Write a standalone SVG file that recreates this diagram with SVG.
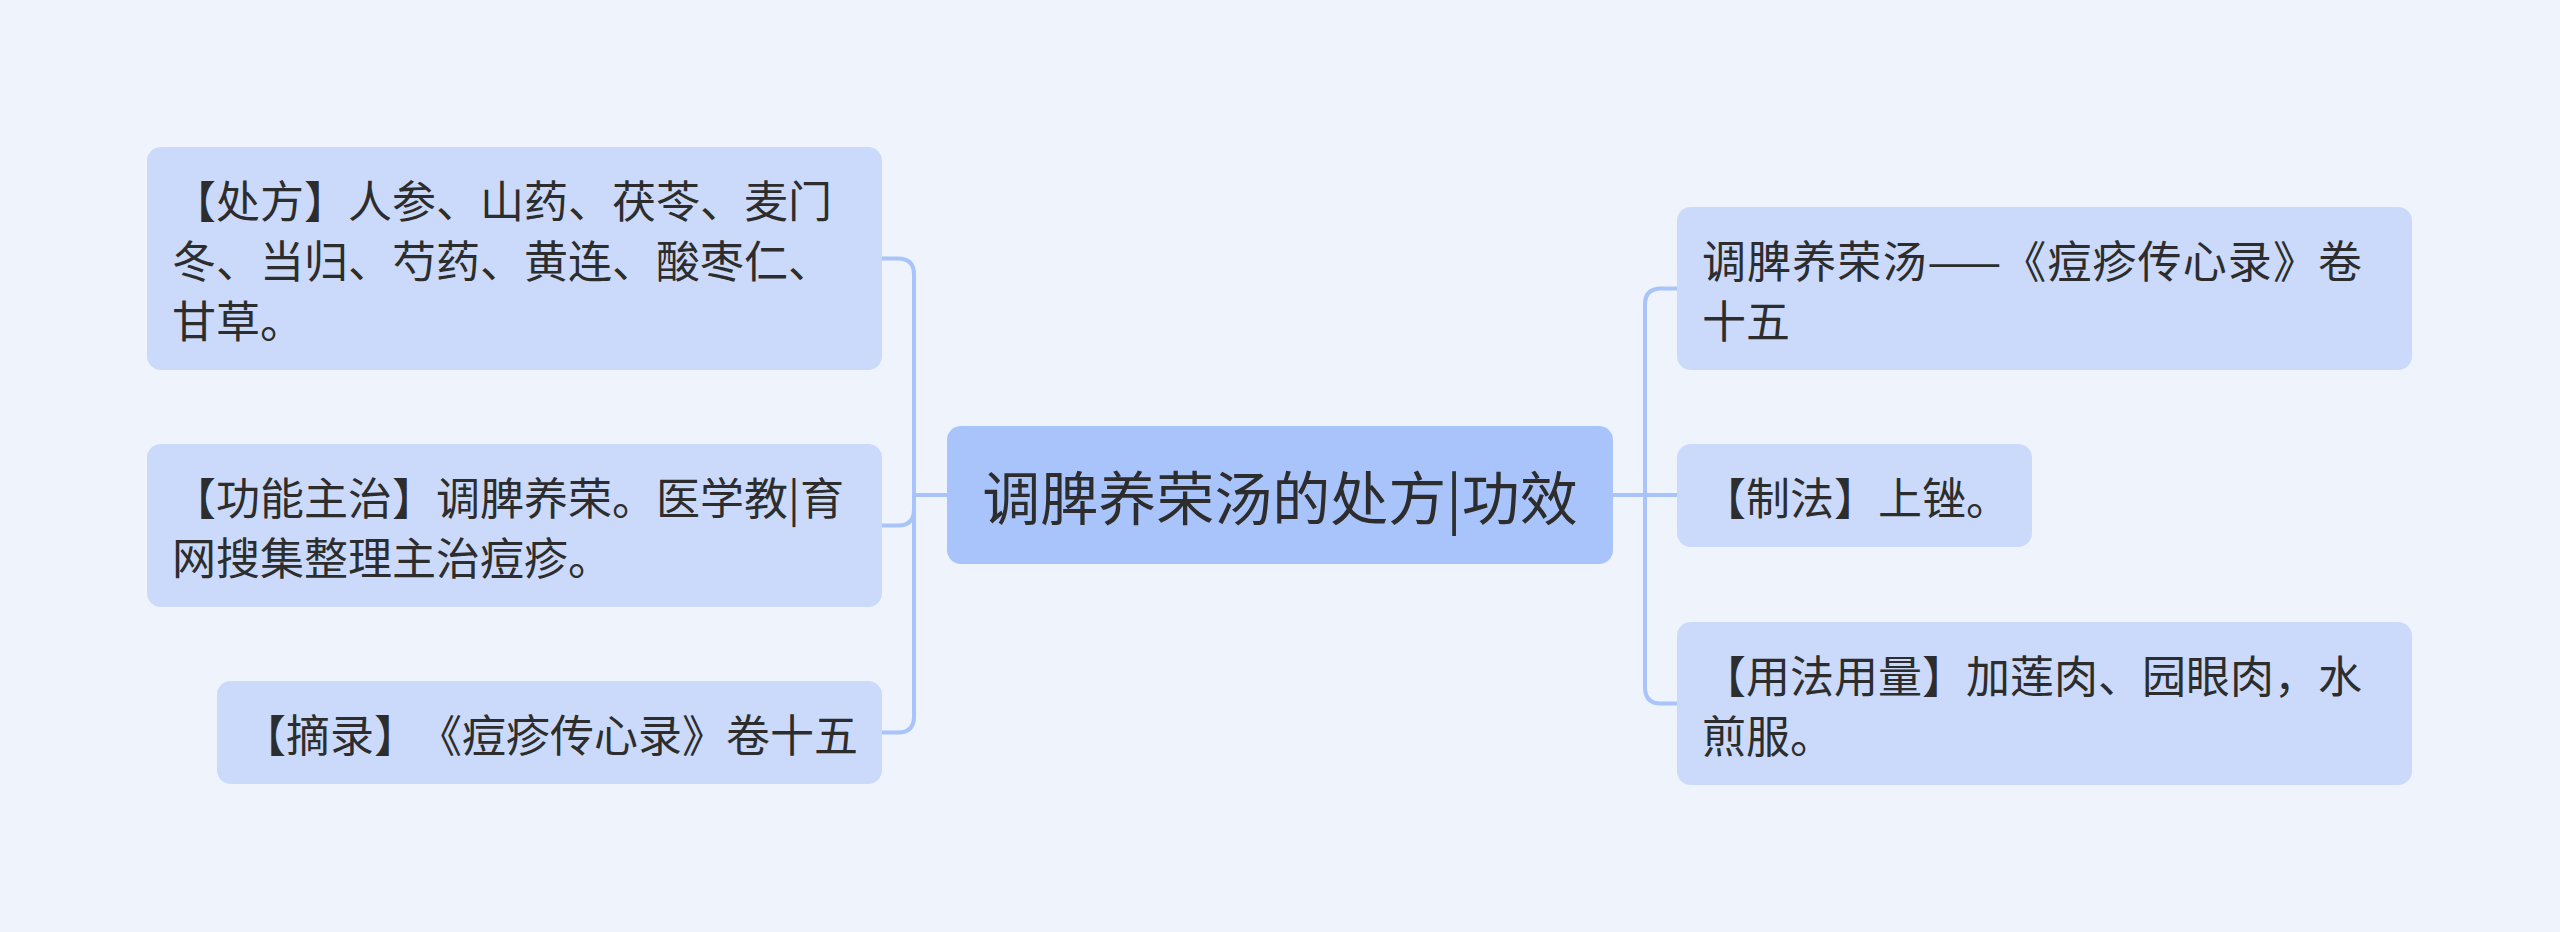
<svg xmlns="http://www.w3.org/2000/svg" width="2560" height="932" viewBox="0 0 2560 932">
<style>
.bg{fill:#eef3fc}
.child{fill:#cbdafb}
.root{fill:#a9c3fb}
text{text-spacing-trim:space-all;font-kerning:none}
.t{font-family:"Noto Sans CJK SC","Noto Sans",sans-serif;font-size:44px;fill:#2d2d2d;dominant-baseline:central}
.tr{font-family:"Noto Sans CJK SC","Noto Sans",sans-serif;font-size:58px;fill:#2d2d2d;dominant-baseline:central;text-anchor:middle}
.c{fill:none;stroke:#a9c3fb;stroke-width:4;stroke-linejoin:round}
</style>
<rect class="bg" x="0" y="0" width="2560" height="932"/>
<g id="connectors">
<path class="c" d="M947 495 H914 V274.5 Q914 258.5 898 258.5 H882"/>
<path class="c" d="M947 495 H914 V509.5 Q914 525.5 898 525.5 H882"/>
<path class="c" d="M947 495 H914 V716.5 Q914 732.5 898 732.5 H882"/>
<path class="c" d="M1613 495 H1645 V304.5 Q1645 288.5 1661 288.5 H1677"/>
<path class="c" d="M1613 495 H1677"/>
<path class="c" d="M1613 495 H1645 V687.5 Q1645 703.5 1661 703.5 H1677"/>
</g>
<g id="root">
<rect class="root" x="947" y="426" width="666" height="138" rx="14"/>
<text class="tr" x="1280" y="495">调脾养荣汤的处方|功效</text>
</g>
<g id="node-chufang">
<rect class="child" x="147" y="147" width="735" height="223" rx="14"/>
<text class="t" x="172" y="198.5">【处方】人参、山药、茯苓、麦门</text>
<text class="t" x="172" y="258.5">冬、当归、芍药、黄连、酸枣仁、</text>
<text class="t" x="172" y="318.5">甘草。</text>
</g>
<g id="node-gongneng">
<rect class="child" x="147" y="444" width="735" height="163" rx="14"/>
<text class="t" x="172" y="495.5">【功能主治】调脾养荣。医学教|育</text>
<text class="t" x="172" y="555.5">网搜集整理主治痘疹。</text>
</g>
<g id="node-zhailu">
<rect class="child" x="217" y="681" width="665" height="103" rx="14"/>
<text class="t" x="242" y="732.5" textLength="616" lengthAdjust="spacing">【摘录】《痘疹传心录》卷十五</text>
</g>
<g id="node-source">
<rect class="child" x="1677" y="207" width="735" height="163" rx="14"/>
<text class="t" x="1702" y="258.5" textLength="660" lengthAdjust="spacing">调脾养荣汤——《痘疹传心录》卷</text>
<text class="t" x="1702" y="318.5">十五</text>
</g>
<g id="node-zhifa">
<rect class="child" x="1677" y="444" width="355" height="103" rx="14"/>
<text class="t" x="1702" y="495.5">【制法】上锉。</text>
</g>
<g id="node-yongfa">
<rect class="child" x="1677" y="622" width="735" height="163" rx="14"/>
<text class="t" x="1702" y="673.5">【用法用量】加莲肉、园眼肉，水</text>
<text class="t" x="1702" y="733.5">煎服。</text>
</g>
</svg>
